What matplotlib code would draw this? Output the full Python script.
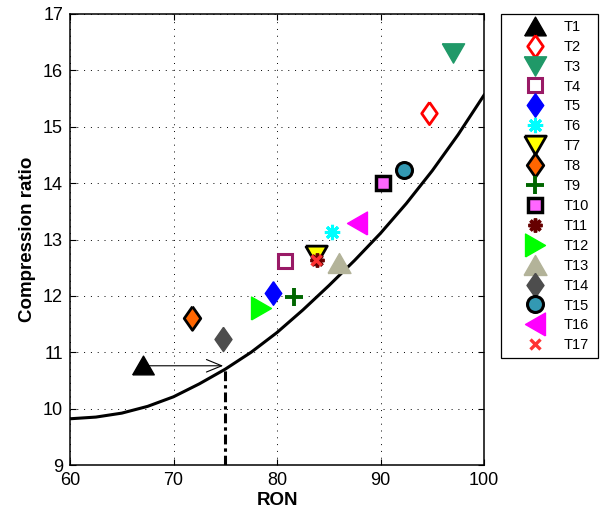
import numpy as np
import matplotlib
matplotlib.use('Agg')
import matplotlib.pyplot as plt
from matplotlib.markers import MarkerStyle

plt.rcParams['font.family'] = ['Liberation Sans', 'DejaVu Sans']

# Fitted compression-ratio limit curve
ron_curve = [60, 62.5, 65, 67.5, 70, 72.5, 75, 77.5, 80, 82.5, 85, 87.5, 90, 92.5, 95, 97.5, 100]
cr_curve = [9.82, 9.85, 9.92, 10.04, 10.21, 10.44, 10.70, 11.00, 11.35, 11.75, 12.18, 12.63,
            13.11, 13.64, 14.22, 14.86, 15.56]

# Test points T1..T17
labels = ['T%d' % i for i in range(1, 18)]
ron = [67.05, 94.65, 96.97, 80.8, 79.6, 85.3, 83.8, 71.76, 81.6, 90.2, 83.83, 78.5, 86.0,
       74.75, 92.27, 87.76, 83.8]
cr = [10.77, 15.25, 16.31, 12.62, 12.05, 13.14, 12.72, 11.60, 11.98, 14.0, 12.64, 11.79,
      12.58, 11.23, 14.23, 13.29, 12.64]

# Arrow from T1 to curve, and the dash-dot drop line
arrow_y = 10.76
arrow_x = [67.05, 74.8]
drop_x = 75
drop_y = [9, 10.68]

# marker shapes
tri_up = MarkerStyle([(-1, -0.87), (1, -0.87), (0, 0.87), (-1, -0.87)], joinstyle='miter')
tri_dn = MarkerStyle([(-1, 0.87), (1, 0.87), (0, -0.87), (-1, 0.87)], joinstyle='miter')
tri_rt = MarkerStyle([(-0.87, -1), (-0.87, 1), (0.87, 0), (-0.87, -1)], joinstyle='miter')
tri_lt = MarkerStyle([(0.87, -1), (0.87, 1), (-0.87, 0), (0.87, -1)], joinstyle='miter')
diam = MarkerStyle([(0, 1), (0.7, 0), (0, -1), (-0.7, 0), (0, 1)], joinstyle='miter')
aster = (8, 2, 0)

# (marker, ms, face, edge, edgewidth)
styles = [
    (tri_up, 15.5, 'k', 'k', 1),
    (diam, 16, 'white', 'red', 2),
    (tri_dn, 16, '#209968', '#209968', 1),
    ('s', 10, 'white', '#991a66', 2.2),
    (diam, 17, 'blue', 'blue', 1),
    (aster, 11, 'cyan', 'cyan', 2.2),
    (tri_dn, 15.5, 'yellow', 'k', 2),
    (diam, 17, '#ff6600', 'k', 2),
    ('+', 13, '#006600', '#006600', 2.8),
    ('s', 9.5, '#ff66ff', 'k', 2.5),
    (aster, 10, '#660000', '#660000', 2.5),
    (tri_rt, 16.5, '#00ff00', '#00ff00', 1),
    (tri_up, 16.5, '#b3b399', '#b3b399', 1),
    (diam, 17.5, '#4d4d4d', '#4d4d4d', 1),
    ('o', 11.5, '#3399b3', 'k', 2.2),
    (tri_lt, 16.5, '#ff00ff', '#ff00ff', 1),
    ('x', 7.5, '#ff3333', '#ff3333', 2.4),
]

fig = plt.figure(figsize=(6.02, 5.14), dpi=100)
ax = fig.add_axes([70/602, 1 - 465/514, 414/602, 451/514])

ax.plot(ron_curve, cr_curve, '-', color='k', lw=2.2, zorder=3)
ax.plot([drop_x, drop_x], drop_y, color='k', lw=2.2,
        ls=(0, (3.2, 1.3, 1.1, 1.3)), zorder=2)
ax.annotate('', xy=(arrow_x[1], arrow_y), xytext=(arrow_x[0], arrow_y),
            arrowprops=dict(arrowstyle='->,head_length=1.1,head_width=0.45',
                            mutation_scale=10, color='k', lw=0.8,
                            shrinkA=0, shrinkB=0), zorder=3)

handles = []
for i in range(len(labels)):
    m, ms, fc, ec, mew = styles[i]
    h, = ax.plot(ron[i], cr[i], ls='none', marker=m, ms=ms, mfc=fc, mec=ec,
                 mew=mew, label=labels[i], zorder=4)
    handles.append(h)

ax.set_xlim(60, 100)
ax.set_ylim(9, 17)
ax.set_xticks(np.arange(60, 101, 10))
ax.set_yticks(np.arange(9, 18, 1))
ax.grid(True, color='k', lw=0.7, ls=(0, (1, 6)))
ax.set_axisbelow(True)
ax.tick_params(direction='in', length=4, width=0.8, top=True, right=True,
               labelsize=13, pad=5)
for sp in ax.spines.values():
    sp.set_linewidth(1.1)

ax.set_xlabel('RON', fontsize=13.5, fontweight='bold', labelpad=2)
ax.set_ylabel('Compression ratio', fontsize=13.5, fontweight='bold', labelpad=5)

leg = ax.legend(handles=handles, loc='upper left',
                bbox_to_anchor=(500.7/602, (514 - 359)/514, 97/602, 345/514),
                bbox_transform=fig.transFigure, mode='expand', borderaxespad=0,
                fontsize=10.5, numpoints=1, handlelength=3.9, handletextpad=0.0,
                labelspacing=0.405, borderpad=0.4, fancybox=False, framealpha=1,
                edgecolor='k')
leg.get_frame().set_linewidth(0.9)

fig.savefig('out.png', dpi=100)
